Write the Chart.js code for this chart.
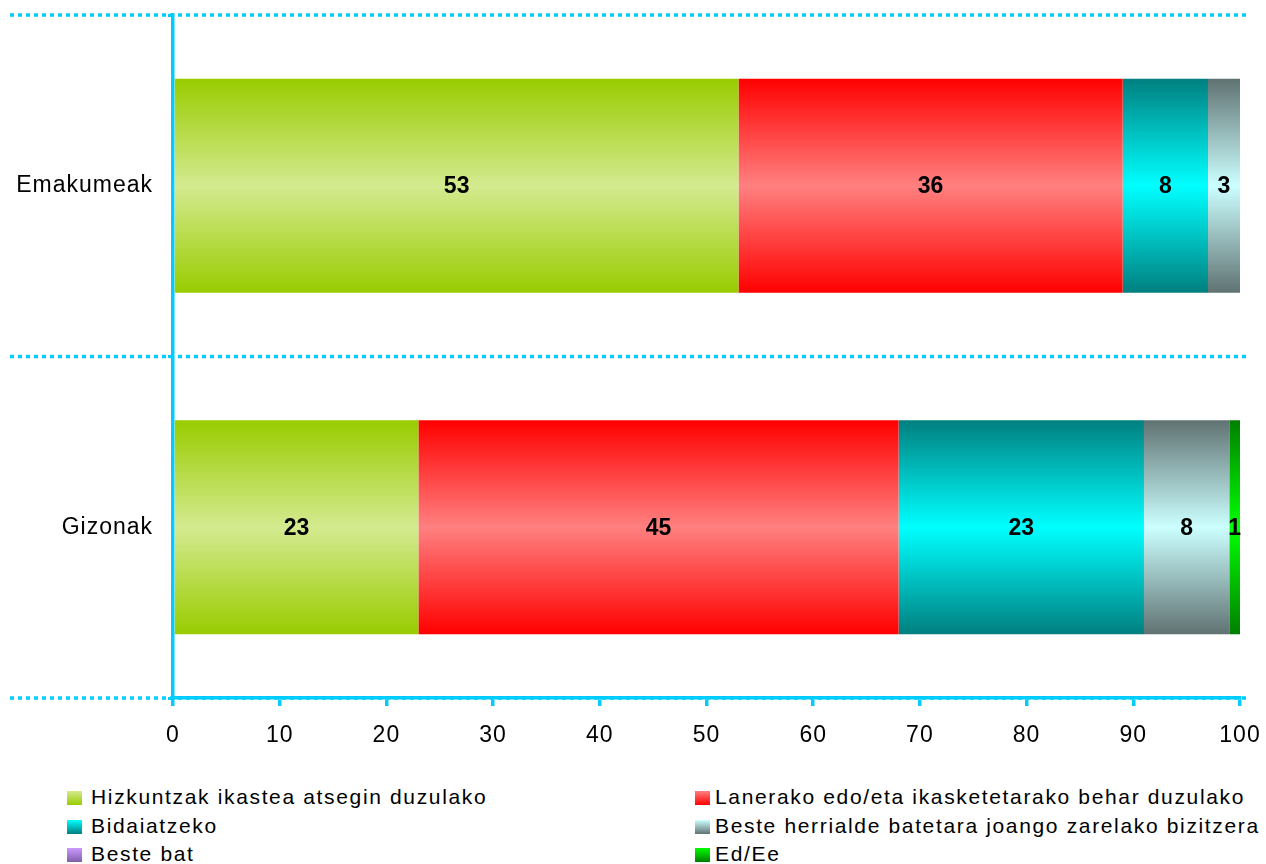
<!DOCTYPE html>
<html>
<head>
<meta charset="utf-8">
<script src="https://cdn.jsdelivr.net/npm/chart.js@4.4.0/dist/chart.umd.min.js"></script>
<style>
  body { margin: 0; background: #fff; }
  #wrap { position: relative; width: 1266px; height: 864px; font-family: 'Liberation Sans', Arial, sans-serif; }
  #myChart { position: absolute; left: 0; top: 0; }
  .lg-text { position: absolute; font-size: 21px; line-height: 20px; letter-spacing: 1.65px; color: #000; white-space: nowrap; }
  .lg-box { position: absolute; width: 15px; height: 14px; }
</style>
</head>
<body>
<div id="wrap">
  <canvas id="myChart" width="1266" height="770"></canvas>
  <div id="legend"></div>
</div>
<script>
// chart data
const categories = ['Emakumeak', 'Gizonak'];
const seriesNames = [
  'Hizkuntzak ikastea atsegin duzulako',
  'Lanerako edo/eta ikasketetarako behar duzulako',
  'Bidaiatzeko',
  'Beste herrialde batetara joango zarelako bizitzera',
  'Beste bat',
  'Ed/Ee'
];
const hizkuntzak = [53, 23];
const lanerako = [36, 45];
const bidaiatzeko = [8, 23];
const besteHerrialde = [3, 8];
const besteBat = [0, 0];
const edEe = [0, 1];
const xTicks = [0, 10, 20, 30, 40, 50, 60, 70, 80, 90, 100];

// gradient colours: edge, middle
const palette = [
  ['#99cc00', '#d4ea90'],
  ['#ff0000', '#ff8080'],
  ['#007f7f', '#00ffff'],
  ['#607272', '#ccffff'],
  ['#7f5fa8', '#cc99ff'],
  ['#007f00', '#00ff00']
];

const seriesValues = [hizkuntzak, lanerako, bidaiatzeko, besteHerrialde, besteBat, edEe];
const barShare = 0.627;
const axisBlue = '#00ccff';
const fontFamily = "'Liberation Sans', Arial, sans-serif";

function barGradient(edge, mid) {
  return function (c) {
    const chart = c.chart;
    const y = chart.scales.y;
    if (c.type !== 'data' || !y || !y.height) return edge;
    const h = (y.height / categories.length) * barShare;
    const center = y.getPixelForValue(c.dataIndex);
    const g = chart.ctx.createLinearGradient(0, center - h / 2, 0, center + h / 2);
    g.addColorStop(0, edge);
    g.addColorStop(0.5, mid);
    g.addColorStop(1, edge);
    return g;
  };
}

// dotted lines between the categories, across the whole width
const bandLines = {
  id: 'bandLines',
  beforeLayout(chart) { chart.ctx.letterSpacing = '1px'; },
  beforeDraw(chart) {
    const ctx = chart.ctx;
    ctx.letterSpacing = '1px';
    const y = chart.scales.y;
    const half = y.height / categories.length / 2;
    ctx.save();
    ctx.strokeStyle = axisBlue;
    ctx.lineWidth = 3.5;
    ctx.setLineDash([4, 4]);
    const lines = [y.getPixelForValue(0) - half];
    categories.forEach((c, i) => lines.push(y.getPixelForValue(i) + half));
    lines.forEach(py => {
      ctx.beginPath();
      ctx.moveTo(10, py);
      ctx.lineTo(1247, py);
      ctx.stroke();
    });
    ctx.restore();
  }
};

// value labels in the middle of each segment
const valueLabels = {
  id: 'valueLabels',
  afterDraw(chart) {
    const ctx = chart.ctx;
    ctx.save();
    ctx.letterSpacing = '0px';
    ctx.font = 'bold 23px ' + fontFamily;
    ctx.fillStyle = '#000';
    ctx.textAlign = 'center';
    ctx.textBaseline = 'middle';
    chart.data.datasets.forEach((ds, di) => {
      chart.getDatasetMeta(di).data.forEach((bar, i) => {
        const v = ds.data[i];
        if (!v) return;
        const p = bar.getCenterPoint();
        ctx.fillText(String(v), p.x, p.y + 1);
      });
    });
    ctx.restore();
  }
};

document.addEventListener('DOMContentLoaded', function () {
  const ctx = document.getElementById('myChart').getContext('2d');

  new Chart(ctx, {
    type: 'bar',
    data: {
      labels: categories,
      datasets: seriesNames.map((name, i) => ({
        label: name,
        data: seriesValues[i],
        backgroundColor: barGradient(palette[i][0], palette[i][1]),
        borderWidth: 0,
        barPercentage: 1,
        categoryPercentage: barShare
      }))
    },
    options: {
      indexAxis: 'y',
      responsive: false,
      animation: false,
      devicePixelRatio: 1,
      layout: { padding: { top: 15, right: 26, left: 0, bottom: 0 } },
      plugins: {
        legend: { display: false },
        tooltip: { enabled: false }
      },
      scales: {
        x: {
          stacked: true,
          min: 0,
          max: 100,
          z: 1,
          afterBuildTicks: s => { s.ticks = xTicks.map(v => ({ value: v })); },
          afterFit: s => { s.height = 72; s.paddingLeft = 0; s.paddingRight = 0; },
          border: { display: true, color: axisBlue, width: 3.5 },
          grid: { drawOnChartArea: false, drawTicks: true, tickLength: 8, color: axisBlue, lineWidth: 3.5 },
          ticks: { color: '#000', padding: 16, maxRotation: 0, font: { family: fontFamily, size: 23 } }
        },
        y: {
          stacked: true,
          z: 1,
          afterFit: s => { s.width = 173; s.paddingTop = 0; s.paddingBottom = 0; },
          border: { display: true, color: axisBlue, width: 3.5 },
          grid: { offset: true, drawOnChartArea: false, drawTicks: true, tickLength: 5, color: axisBlue, lineWidth: 3 },
          ticks: { color: '#000', padding: 15, font: { family: fontFamily, size: 23 } }
        }
      }
    },
    plugins: [bandLines, valueLabels]
  });

  // legend in two columns under the chart
  const legend = document.getElementById('legend');
  const colBox = [67, 695];
  const colText = [91, 715];
  seriesNames.forEach((name, i) => {
    const col = i % 2, row = Math.floor(i / 2);
    const box = document.createElement('div');
    box.className = 'lg-box';
    box.style.left = colBox[col] + 'px';
    box.style.top = (791 + row * 28.5) + 'px';
    box.style.background = 'linear-gradient(to bottom, ' + palette[i][1] + ', ' + palette[i][0] + ')';
    legend.appendChild(box);
    const txt = document.createElement('div');
    txt.className = 'lg-text';
    txt.style.left = colText[col] + 'px';
    txt.style.top = (787 + row * 28.5) + 'px';
    txt.textContent = name;
    legend.appendChild(txt);
  });
});
</script>
</body>
</html>
